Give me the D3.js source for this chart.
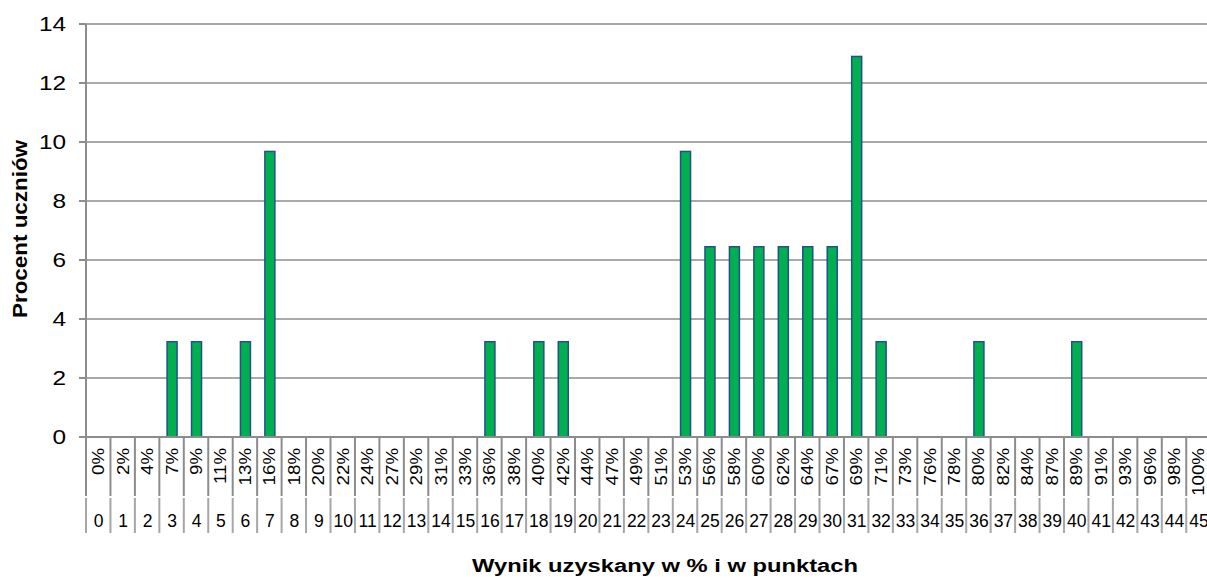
<!DOCTYPE html>
<meta charset="utf-8">
<style>
    html, body { margin: 0; background: #fff; }
    text { font-family: Arial, "Liberation Sans", sans-serif; fill: #000; }
    .grid line { stroke: #8c8c8c; stroke-width: 1.5px; }
    .bar { fill: #00b050; stroke: #254f8c; stroke-width: 1.5px; }
    .axis-line { stroke: #8c8c8c; stroke-width: 2px; }
</style>
<body>
<script src="https://d3js.org/d3.v7.min.js"></script>
<script>
    // points 0..45, percentage labels, share of students (%)
    var points = d3.range(0, 46);
    var pctLabels = ["0%","2%","4%","7%","9%","11%","13%","16%","18%","20%","22%","24%","27%","29%","31%","33%",
        "36%","38%","40%","42%","44%","47%","49%","51%","53%","56%","58%","60%","62%","64%","67%","69%",
        "71%","73%","76%","78%","80%","82%","84%","87%","89%","91%","93%","96%","98%","100%"];
    var values = [0,0,0,3.23,3.23,0,3.23,9.68,0,0,0,0,0,0,0,0,
        3.23,0,3.23,3.23,0,0,0,0,9.68,6.45,6.45,6.45,6.45,6.45,6.45,12.9,
        3.23,0,0,0,3.23,0,0,0,3.23,0,0,0,0,0];
    var yTicks = [0, 2, 4, 6, 8, 10, 12, 14];

    var width = 1207, height = 578;
    var mLeft = 86, mTop = 24, mBottom = 437, step = 24.45;

    var svg = d3.select("body").append("svg")
        .attr("width", width)
        .attr("height", height);

    var x = d3.scaleBand()
        .domain(points)
        .range([mLeft, mLeft + step * points.length]);

    var y = d3.scaleLinear()
        .domain([0, 14])
        .range([mBottom, mTop]);

    // gridlines
    svg.append("g").attr("class", "grid").selectAll("line")
        .data(yTicks.filter(function (d) { return d > 0; }))
        .enter().append("line")
        .attr("x1", mLeft - 7)
        .attr("x2", width)
        .attr("y1", function (d) { return y(d); })
        .attr("y2", function (d) { return y(d); });

    // y tick labels (wide glyphs like the original)
    svg.append("g").selectAll("text")
        .data(yTicks)
        .enter().append("text")
        .attr("transform", function (d) { return "translate(66," + y(d) + ") scale(1.25,1)"; })
        .attr("dy", "0.36em")
        .attr("text-anchor", "end")
        .style("font-size", "19.5px")
        .text(function (d) { return d; });

    // bars
    var bw = 10;
    svg.append("g").selectAll("rect")
        .data(points.filter(function (p) { return values[p] > 0; }))
        .enter().append("rect")
        .attr("class", "bar")
        .attr("x", function (p) { return x(p) + x.bandwidth() / 2 - bw / 2 + 0.5; })
        .attr("width", bw)
        .attr("y", function (p) { return y(values[p]); })
        .attr("height", function (p) { return mBottom - y(values[p]); });

    // axes
    svg.append("line").attr("class", "axis-line")
        .attr("x1", mLeft).attr("x2", mLeft)
        .attr("y1", mTop).attr("y2", mBottom);
    svg.append("line").attr("class", "axis-line")
        .attr("x1", mLeft - 7).attr("x2", width)
        .attr("y1", mBottom).attr("y2", mBottom);
    svg.append("g").selectAll("line")
        .data(yTicks)
        .enter().append("line")
        .attr("class", "axis-line")
        .attr("x1", mLeft - 7).attr("x2", mLeft)
        .attr("y1", function (d) { return y(d); })
        .attr("y2", function (d) { return y(d); });

    // category separators (two levels)
    var seps = points.concat([points.length]);
    var sepX = function (i) { return mLeft + i * step; };
    var sepG = svg.append("g");
    sepG.selectAll("line.s1")
        .data(seps)
        .enter().append("line")
        .attr("class", "axis-line s1")
        .attr("x1", sepX).attr("x2", sepX)
        .attr("y1", mBottom)
        .attr("y2", 496);
    sepG.selectAll("line.s2")
        .data(seps)
        .enter().append("line")
        .attr("class", "axis-line s2")
        .style("stroke", "#a6a6a6")
        .attr("x1", sepX).attr("x2", sepX)
        .attr("y1", 498)
        .attr("y2", 533);

    // percentage labels (rotated)
    svg.append("g").selectAll("text")
        .data(points)
        .enter().append("text")
        .attr("transform", function (p) {
            return "translate(" + (x(p) + x.bandwidth() / 2 + 6) + ",448) rotate(-90) scale(1.1,1)";
        })
        .attr("text-anchor", "end")
        .style("font-size", "17px")
        .text(function (p) { return pctLabels[p]; });

    // point labels
    svg.append("g").selectAll("text")
        .data(points)
        .enter().append("text")
        .attr("x", function (p) { return x(p) + x.bandwidth() / 2 + 0.5; })
        .attr("y", 527)
        .attr("text-anchor", "middle")
        .style("font-size", "17.5px")
        .text(function (p) { return p; });

    // axis titles
    svg.append("text")
        .attr("x", 472)
        .attr("y", 572)
        .attr("textLength", 386)
        .attr("lengthAdjust", "spacingAndGlyphs")
        .style("font-size", "18px")
        .style("font-weight", "bold")
        .text("Wynik uzyskany w % i w punktach");

    svg.append("text")
        .attr("transform", "translate(27,318) rotate(-90)")
        .attr("textLength", 178)
        .attr("lengthAdjust", "spacingAndGlyphs")
        .style("font-size", "20px")
        .style("font-weight", "bold")
        .text("Procent uczniów");
</script>
</body>
